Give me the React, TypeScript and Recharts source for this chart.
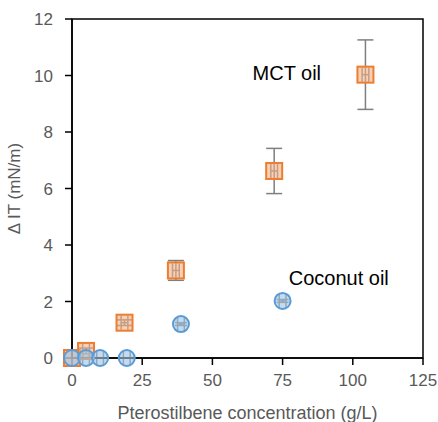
import { ScatterChart, Scatter, XAxis, YAxis, ErrorBar, ReferenceDot, ReferenceArea, Label } from 'recharts';

// MCT oil (squares)
const mctConc = [0, 5, 18.7, 37, 72, 104.5];
const mctDeltaIT = [0, 0.25, 1.25, 3.1, 6.62, 10.03];
const mctErrY = [0, 0.1, 0.1, 0.35, 0.8, 1.23];
const mctErrX = [0, 1.2, 1.2, 1.2, 1.2, 1.2];

// Coconut oil (circles)
const cocoConc = [0, 5, 10, 19.5, 38.8, 75];
const cocoDeltaIT = [0, 0, 0, 0, 1.2, 2.02];
const cocoErrY = [0, 0, 0, 0, 0.05, 0.05];
const cocoErrX = [0, 1.2, 1.2, 1.2, 1.2, 1.2];

const xTicks = [0, 25, 50, 75, 100, 125];
const yTicks = [0, 2, 4, 6, 8, 10, 12];

const labels = [
  { name: 'MCT oil', x: 76.5, y: 10.1 },
  { name: 'Coconut oil', x: 95, y: 2.85 },
];

const mctData = mctConc.map((x, i) => ({ x, y: mctDeltaIT[i], ey: mctErrY[i], ex: mctErrX[i] }));
const cocoData = cocoConc.map((x, i) => ({ x, y: cocoDeltaIT[i], ey: cocoErrY[i], ex: cocoErrX[i] }));

const font = '"Liberation Sans", Arial, sans-serif';
const tickStyle = { fill: '#595959', fontSize: 17, fontFamily: font };

const Square = (p: any) => (
  <rect x={p.cx - 8} y={p.cy - 8} width={16} height={16}
    fill="#f4b183" fillOpacity={0.6} stroke="#ed7d31" strokeWidth={2} />
);
const Circle = (p: any) => (
  <circle cx={p.cx} cy={p.cy} r={8}
    fill="#9dc3e6" fillOpacity={0.6} stroke="#5b9bd5" strokeWidth={2} />
);

export default function App() {
  return (
    <div style={{ position: 'absolute', left: 0, top: 0, background: '#fff' }}>
      <ScatterChart width={438} height={422} margin={{ top: 19, right: 15, bottom: 0, left: 0 }}>
        <ReferenceArea x1={0} x2={125} y1={0} y2={12} fill="none" stroke="#000" strokeWidth={1.5} />
        <XAxis type="number" dataKey="x" domain={[0, 125]} ticks={xTicks} height={64}
          stroke="#000" strokeWidth={1.5} tickSize={7} tick={tickStyle} tickMargin={9}>
          <Label value="Pterostilbene concentration (g/L)" position="insideBottom" offset={3}
            fill="#595959" fontSize={18} fontFamily={font} />
        </XAxis>
        <YAxis type="number" dataKey="y" domain={[0, 12]} ticks={yTicks} width={72}
          stroke="#000" strokeWidth={1.5} tickSize={7} tick={tickStyle} tickMargin={12}>
          <Label value="Δ IT (mN/m)" angle={-90} position="insideLeft" offset={14}
            fill="#595959" fontSize={17} fontFamily={font} style={{ textAnchor: 'middle' }} />
        </YAxis>
        <Scatter data={mctData} shape={Square} isAnimationActive={false}>
          <ErrorBar dataKey="ey" direction="y" width={8} stroke="#7f7f7f" strokeWidth={1.5} />
          <ErrorBar dataKey="ex" direction="x" width={7} stroke="#7f7f7f" strokeWidth={1.5} />
        </Scatter>
        <Scatter data={cocoData} shape={Circle} isAnimationActive={false}>
          <ErrorBar dataKey="ey" direction="y" width={6} stroke="#7f7f7f" strokeWidth={1.5} />
          <ErrorBar dataKey="ex" direction="x" width={7} stroke="#7f7f7f" strokeWidth={1.5} />
        </Scatter>
        {labels.map((l) => (
          <ReferenceDot key={l.name} x={l.x} y={l.y} r={0} stroke="none" ifOverflow="visible"
            label={{ value: l.name, position: 'center', fill: '#000', fontSize: 20, fontFamily: font }} />
        ))}
      </ScatterChart>
    </div>
  );
}
